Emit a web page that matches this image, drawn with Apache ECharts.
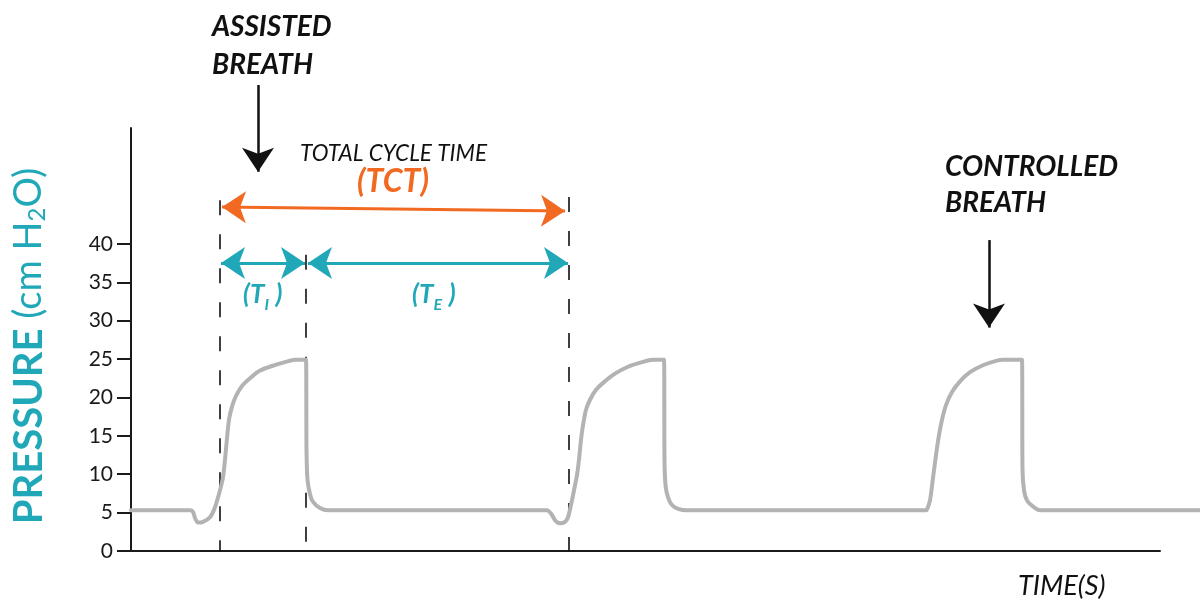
<!DOCTYPE html>
<html>
<head>
<meta charset="utf-8">
<script src="https://cdn.jsdelivr.net/npm/echarts@6/dist/echarts.min.js"></script>
<style>
html,body{margin:0;padding:0;background:#fff;}
#main{width:1200px;height:602px;}
</style>
</head>
<body>
<div id="main"></div>
<script>
// ---- data (time in s, pressure in cm H2O) ----
const waveTime = [0,0.59,0.62,0.64,0.67,0.72,0.79,0.84,0.89,0.92,0.94,0.96,0.98,1.01,1.05,1.11,1.19,1.29,1.41,1.54,1.64,1.75,
  1.755,1.765,1.79,1.82,1.89,1.97,
  4.16,4.21,4.24,4.29,4.34,4.37,4.40,4.43,4.46,4.48,4.50,4.52,4.55,4.59,4.65,4.73,4.84,4.97,5.11,5.22,5.33,
  5.335,5.345,5.37,5.41,5.47,5.56,
  7.95,7.96,7.99,8.02,8.05,8.08,8.11,8.15,8.21,8.29,8.39,8.52,8.66,8.72,8.91,
  8.915,8.93,8.96,9.01,9.09,10.69];
const wavePressure = [5.3,5.3,5.1,4.3,3.7,3.8,4.4,5.7,7.9,9.6,11.9,14.7,17.1,18.8,20.2,21.5,22.5,23.5,24.1,24.6,24.9,24.9,
  13.2,9.3,7.4,6.4,5.6,5.3,
  5.3,4.7,4.0,3.6,3.8,4.4,6.0,7.9,9.9,11.9,14.5,16.4,18.4,19.7,21.0,22.0,23.1,24.0,24.6,24.9,24.9,
  11.9,8.6,7.0,6.0,5.5,5.3,
  5.3,5.4,6.6,9.5,12.5,15.1,17.1,19.0,20.7,22.1,23.3,24.2,24.8,24.9,24.9,
  10.6,7.9,6.6,5.9,5.3,5.3];
const yTicks = [0,5,10,15,20,25,30,35,40];
const xAxisMax = 10.29;   // end of drawn time axis
const xDataMax = 10.69;   // trace runs past the axis end
const yMax = 55.1;

// markers: breath boundaries (dashed lines)
const dashTime = [0.89, 1.75, 4.38];
const dashTop = [45.7, 38.6, 46.1];

// interval arrows [t1, p1, t2, p2]
const tctArrow = [0.91, 44.8, 4.34, 44.3];
const tiArrow = [0.90, 37.5, 1.74, 37.5];
const teArrow = [1.77, 37.5, 4.37, 37.5];
// pointer arrows [t, pFrom, pTo]
const assistedArrow = [1.27, 60.7, 49.4];
const controlledArrow = [8.58, 40.5, 29.1];

const TEAL = '#20a8b8';
const ORANGE = '#f26a22';
const GREY = '#b3b3b3';
const FONT = 'Lato';

const waveData = waveTime.map((t, i) => [t, wavePressure[i]]);
const dashData = dashTime.map((t, i) => ({coords: [[t, dashTop[i]], [t, 0]]}));
const seg = (a, color) => ({coords: [[a[0], a[1]], [a[2], a[3]]], lineStyle: {color: color}});
const ptr = (a) => ({coords: [[a[0], a[1]], [a[0], a[2]]]});

const subLabel = (sub) => ({
  text: '{p|(T}{s|' + sub + '}{p| )}',
  rich: {p: {fontFamily: FONT, fontSize: 26, fontWeight: 'bold', fontStyle: 'italic', fill: TEAL},
         s: {fontFamily: FONT, fontSize: 16, fontWeight: 'bold', fontStyle: 'italic', fill: TEAL, padding: [19, 1, 0, 0]}}
});

const chart = echarts.init(document.getElementById('main'), null, {renderer: 'canvas'});
const option = {
  animation: false,
  backgroundColor: '#ffffff',
  textStyle: {fontFamily: FONT},
  grid: [
    {left: 131, right: 40, top: 128, bottom: 51, containLabel: false},
    {left: 131, right: 0, top: 128, bottom: 51, containLabel: false}
  ],
  xAxis: [
    {
      gridIndex: 0, type: 'value', min: 0, max: xAxisMax,
      axisLine: {show: true, lineStyle: {color: '#1a1a1a', width: 2}},
      axisTick: {show: false}, axisLabel: {show: false}, splitLine: {show: false}
    },
    {gridIndex: 1, type: 'value', min: 0, max: xDataMax, show: false}
  ],
  yAxis: [
    {
      gridIndex: 0, type: 'value', min: 0, max: yMax,
      axisLine: {show: true, lineStyle: {color: '#1a1a1a', width: 2}},
      axisTick: {show: true, length: 14, lineStyle: {color: '#1a1a1a', width: 2}, customValues: yTicks},
      axisLabel: {show: true, margin: 18, fontSize: 21, color: '#1a1a1a', fontFamily: FONT, customValues: yTicks},
      splitLine: {show: false}
    },
    {gridIndex: 1, type: 'value', min: 0, max: yMax, show: false}
  ],
  series: [
    {
      type: 'line', xAxisIndex: 1, yAxisIndex: 1, data: waveData, symbol: 'none', clip: false,
      smooth: 0.25,
      lineStyle: {color: GREY, width: 4, join: 'round', cap: 'round'}
    },
    {
      type: 'lines', xAxisIndex: 1, yAxisIndex: 1, coordinateSystem: 'cartesian2d', clip: false, symbol: 'none',
      lineStyle: {color: '#111', width: 1.6, type: [15, 19], opacity: 1},
      data: dashData
    },
    {
      type: 'lines', xAxisIndex: 1, yAxisIndex: 1, coordinateSystem: 'cartesian2d', clip: false,
      symbol: ['arrow', 'arrow'], symbolSize: 24,
      lineStyle: {width: 3, opacity: 1},
      data: [seg(tctArrow, ORANGE), seg(tiArrow, TEAL), seg(teArrow, TEAL)]
    },
    {
      type: 'lines', xAxisIndex: 1, yAxisIndex: 1, coordinateSystem: 'cartesian2d', clip: false,
      symbol: ['none', 'arrow'], symbolSize: 24,
      lineStyle: {width: 2.5, color: '#111', opacity: 1},
      data: [ptr(assistedArrow), ptr(controlledArrow)]
    }
  ],
  graphic: [
    {type: 'text', left: 212, top: 8, style: {text: 'ASSISTED\nBREATH', fontFamily: FONT, fontSize: 28, fontWeight: 'bold', fontStyle: 'italic', fill: '#111', lineHeight: 38}},
    {type: 'text', left: 945, top: 149, style: {text: 'CONTROLLED\nBREATH', fontFamily: FONT, fontSize: 28, fontWeight: 'bold', fontStyle: 'italic', fill: '#111', lineHeight: 36}},
    {type: 'text', left: 300, top: 142, style: {text: 'TOTAL CYCLE TIME', fontFamily: FONT, fontSize: 22.5, fontStyle: 'italic', fill: '#111'}},
    {type: 'text', left: 357, top: 166, style: {text: '(TCT)', fontFamily: FONT, fontSize: 32, fontWeight: 'bold', fontStyle: 'italic', fill: ORANGE}},
    {type: 'text', left: 243, top: 282, style: subLabel('I')},
    {type: 'text', left: 412, top: 282, style: subLabel('E')},
    {type: 'text', left: 1018, top: 573, style: {text: 'TIME(S)', fontFamily: FONT, fontSize: 27, fontStyle: 'italic', fill: '#111'}},
    {type: 'text', x: 29, y: 346, rotation: Math.PI / 2, style: {
      text: '{b|PRESSURE}{n| (cm H}{s|2}{n|O)}', align: 'center', verticalAlign: 'middle',
      rich: {b: {fontFamily: FONT, fontSize: 40, fontWeight: 'bold', fill: TEAL},
             n: {fontFamily: FONT, fontSize: 38, fill: TEAL},
             s: {fontFamily: FONT, fontSize: 24, fill: TEAL, padding: [16, 0, 0, 0]}}}}
  ]
};
chart.setOption(option);
</script>
</body>
</html>
